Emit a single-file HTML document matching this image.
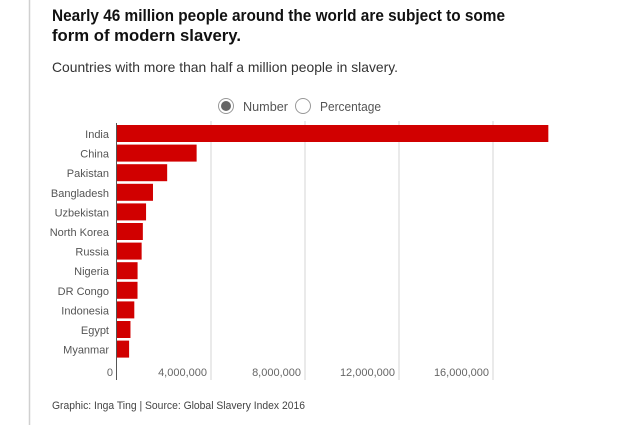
<!DOCTYPE html>
<html><head><meta charset="utf-8"><style>
html,body{margin:0;padding:0;background:#fff;width:630px;height:425px;overflow:hidden}
svg text{font-family:"Liberation Sans",sans-serif}
</style></head><body>
<svg width="630" height="425">
<line x1="29.5" y1="0" x2="29.5" y2="425" stroke="#d0d0d0" stroke-width="1.5"/>
<text x="52" y="21" font-size="17" font-weight="bold" fill="#111" textLength="453" lengthAdjust="spacingAndGlyphs">Nearly 46 million people around the world are subject to some</text>
<text x="52" y="41" font-size="17" font-weight="bold" fill="#111" textLength="189" lengthAdjust="spacingAndGlyphs">form of modern slavery.</text>
<text x="52" y="72" font-size="14" fill="#333" textLength="346" lengthAdjust="spacingAndGlyphs">Countries with more than half a million people in slavery.</text>
<g>
<circle cx="226" cy="106" r="7.5" fill="#fff" stroke="#999" stroke-width="1"/>
<circle cx="226" cy="106" r="5" fill="#666"/>
<text x="243" y="111" font-size="13" fill="#555" textLength="45" lengthAdjust="spacingAndGlyphs">Number</text>
</g>
<g>
<circle cx="303" cy="106" r="7.5" fill="#fff" stroke="#999" stroke-width="1"/>
<text x="320" y="111" font-size="13" fill="#555" textLength="61" lengthAdjust="spacingAndGlyphs">Percentage</text>
</g>
<g id="plot"></g>
<text x="52" y="409" font-size="11" fill="#444" textLength="253" lengthAdjust="spacingAndGlyphs">Graphic: Inga Ting | Source: Global Slavery Index 2016</text>
</svg>
<script>
const countries=["India","China","Pakistan","Bangladesh","Uzbekistan","North Korea","Russia","Nigeria","DR Congo","Indonesia","Egypt","Myanmar"];
const values=[18354700,3388400,2134900,1531300,1236600,1100000,1048500,875500,873100,736100,572900,515100];
const ticks=[0,4000000,8000000,12000000,16000000];
const tickLabels=["0","4,000,000","8,000,000","12,000,000","16,000,000"];
const NS="http://www.w3.org/2000/svg";
const g=document.getElementById("plot");
const x0=117, pxPer=94/4000000;
const x=v=>x0+v*pxPer;
const top0=125, pitch=19.6, bh=17;
function mk(t,a){const e=document.createElementNS(NS,t);for(const k in a)e.setAttribute(k,a[k]);g.appendChild(e);return e;}
ticks.forEach((t,i)=>{
  if(i>0){const l=mk("line",{x1:x(t),x2:x(t),y1:121,y2:380,stroke:"#ddd","stroke-width":1.2});
  
  }
  const tx=mk("text",{x:i==0?x(t)-4:x(t)-4,y:376,"font-size":11,fill:"#666","text-anchor":"end"});
  tx.textContent=tickLabels[i];
  
  
});
countries.forEach((c,i)=>{
  const y=top0+i*pitch;
  const r=mk("rect",{x:x0,y:y,width:x(values[i])-x0,height:bh,fill:"#d10000"});
  
  
  const t=mk("text",{x:109,y:y+13,"font-size":11,fill:"#555","text-anchor":"end"});
  t.textContent=c;
  
  
});
const ax=mk("line",{x1:x0-0.5,x2:x0-0.5,y1:123,y2:380,stroke:"#555","stroke-width":1});


</script>
</body></html>
